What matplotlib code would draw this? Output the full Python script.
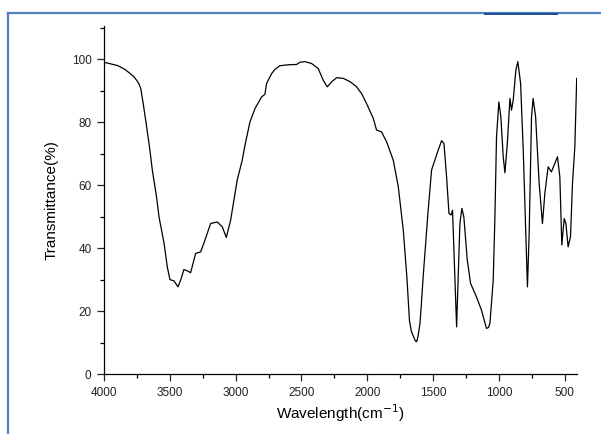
import matplotlib
matplotlib.use("Agg")
import matplotlib.pyplot as plt
from matplotlib.lines import Line2D
from matplotlib.ticker import MultipleLocator

plt.rcParams["font.family"] = ["Liberation Sans", "DejaVu Sans"]

# FTIR spectrum (wavenumber cm-1, transmittance %)
wavenumber = [4000, 3950, 3900, 3879, 3840, 3803, 3775, 3752, 3735, 3721, 3702,
              3676, 3651, 3633, 3600, 3582, 3544, 3519, 3499,
              3468, 3438, 3418, 3393, 3368, 3342, 3304, 3266, 3241, 3190, 3140,
              3102, 3071, 3038, 2988, 2950, 2929, 2891, 2853, 2803, 2778, 2765,
              2727, 2700, 2664, 2600, 2537, 2512, 2474, 2423, 2373, 2335, 2304,
              2271, 2233, 2183, 2130, 2081, 2040, 2006, 1955, 1930, 1892, 1853,
              1803, 1765, 1727, 1700, 1680, 1665, 1650, 1635, 1625, 1615, 1600,
              1590, 1576, 1538, 1512, 1487, 1462, 1436, 1418, 1398, 1380,
              1365, 1353, 1335, 1322, 1310, 1297, 1282, 1267, 1241, 1216, 1171,
              1133, 1095, 1080, 1069, 1044, 1031, 1019, 1001, 986, 968, 955, 937,
              917, 905, 892, 872, 857, 836, 816, 796, 784, 771, 753, 741, 722,
              695, 670, 652, 627, 602, 576, 556, 538, 523, 505, 492, 475, 457,
              442, 424, 410]
transmittance = [99.0, 98.5, 98.0, 97.6, 96.7, 95.5, 94.5, 93.3, 92.2, 90.7, 85.9,
                 78.5, 71.1, 64.8, 56.0, 49.9, 41.6, 34.0, 30.0,
                 29.6, 27.7, 29.8, 33.2, 32.8, 32.2, 38.3, 38.8, 41.6, 47.8, 48.3,
                 46.8, 43.4, 48.9, 61.6, 67.9, 72.7, 80.1, 84.3, 88.0, 88.8, 92.3,
                 95.4, 96.8, 97.9, 98.2, 98.3, 99.0, 99.2, 98.6, 97.0, 93.3, 91.2,
                 92.8, 94.1, 93.9, 92.8, 91.2, 88.8, 85.9, 81.2, 77.5, 76.9, 73.7,
                 67.9, 59.5, 45.7, 31.0, 17.0, 13.5, 12.0, 10.5, 10.3, 12.0, 16.1,
                 22.0, 30.9, 52.0, 64.8, 67.9, 71.1, 74.1, 73.2, 62.6, 51.0,
                 50.5, 52.0, 30.9, 15.0, 30.9, 47.8, 52.6, 49.9, 36.2, 28.8, 24.5,
                 20.3, 14.5, 14.8, 16.1, 29.8, 49.9, 75.3, 86.4, 81.7, 69.0, 63.9,
                 73.2, 87.5, 83.8, 87.0, 96.5, 99.2, 92.3, 71.1, 43.6, 27.7, 44.7,
                 81.7, 87.5, 81.7, 60.5, 47.8, 57.3, 65.8, 64.2, 66.9, 69.0, 62.6,
                 41.0, 49.4, 47.8, 40.4, 43.6, 60.5, 72.2, 93.9]

x_ticks = [4000, 3500, 3000, 2500, 2000, 1500, 1000, 500]
y_ticks = [0, 20, 40, 60, 80, 100]


def main():
    fig = plt.figure(figsize=(6.01, 4.34), dpi=100)
    ax = fig.add_axes([0.173, 0.138, 0.787, 0.802])

    ax.plot(wavenumber, transmittance, color="black", linewidth=0.9)

    ax.set_xlim(4000, 408)
    ax.set_ylim(0, 110.5)
    ax.set_xticks(x_ticks)
    ax.set_yticks(y_ticks)
    ax.xaxis.set_minor_locator(MultipleLocator(250))
    ax.yaxis.set_minor_locator(MultipleLocator(10))

    ax.spines["top"].set_visible(False)
    ax.spines["right"].set_visible(False)
    for s in ("left", "bottom"):
        ax.spines[s].set_linewidth(0.9)

    ax.tick_params(which="major", direction="out", length=5, width=0.9,
                   labelsize=8.5, colors="#222222", pad=4)
    ax.tick_params(which="minor", direction="out", length=3, width=0.9)

    ax.set_xlabel("Wavelength(cm$^{-1}$)", fontsize=11, labelpad=3)
    ax.set_ylabel("Transmittance(%)", fontsize=11, labelpad=9)

    # screenshot border
    W, H = 601, 434
    fig.add_artist(Line2D([8 / W, 1], [1 - 13 / H, 1 - 13 / H], color="#4F81BD",
                          linewidth=1.6, transform=fig.transFigure))
    fig.add_artist(Line2D([8 / W, 8 / W], [0, 1 - 13 / H], color="#4F81BD",
                          linewidth=1.6, transform=fig.transFigure))
    fig.add_artist(Line2D([485 / W, 557 / W], [1 - 14 / H, 1 - 14 / H],
                          color="#1F4E8F", linewidth=1.4, transform=fig.transFigure))

    fig.savefig("out.png", dpi=100)
    plt.close(fig)


if __name__ == "__main__":
    main()
